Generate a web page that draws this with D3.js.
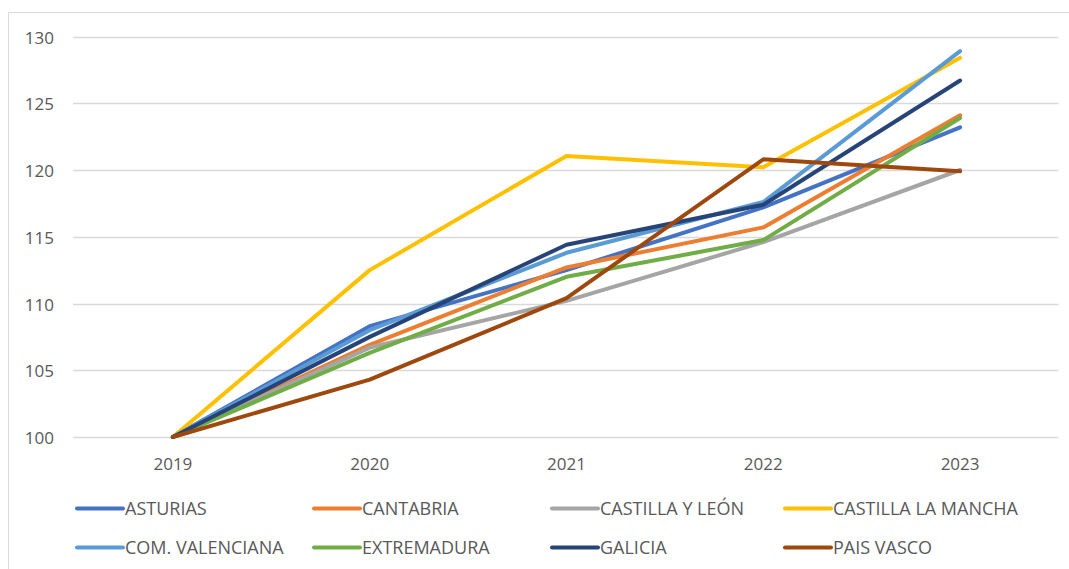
<!DOCTYPE html>
<html>
<head>
<meta charset="utf-8">
<script src="https://cdn.jsdelivr.net/npm/d3@7"></script>
<style>
  body { margin: 0; background: #fff; }
  text { font-family: "Open Sans", "Liberation Sans", sans-serif; fill: #595959; }
</style>
</head>
<body>
<div id="chart"></div>
<script>
const years = ['2019', '2020', '2021', '2022', '2023']
const yTicks = [100, 105, 110, 115, 120, 125, 130]

const regions = ['ASTURIAS', 'CANTABRIA', 'CASTILLA Y LEÓN', 'CASTILLA LA MANCHA',
  'COM. VALENCIANA', 'EXTREMADURA', 'GALICIA', 'PAIS VASCO']
const colors = ['#4472C4', '#ED7D31', '#A5A5A5', '#FFC000',
  '#5B9BD5', '#70AD47', '#264478', '#9E480E']

const asturias = [100, 108.3, 112.5, 117.2, 123.2]
const cantabria = [100, 106.9, 112.7, 115.7, 124.1]
const castillaLeon = [100, 106.7, 110.2, 114.6, 120.0]
const castillaMancha = [100, 112.5, 121.05, 120.2, 128.4]
const comValenciana = [100, 108.0, 113.8, 117.6, 128.9]
const extremadura = [100, 106.3, 112.0, 114.75, 123.9]
const galicia = [100, 107.5, 114.4, 117.4, 126.7]
const paisVasco = [100, 104.3, 110.4, 120.8, 119.9]

const seriesValues = [asturias, cantabria, castillaLeon, castillaMancha,
  comValenciana, extremadura, galicia, paisVasco]

const WIDTH = 1069
const HEIGHT = 569
const margin = { top: 36.5, left: 74.5, right: 10.5, bottom: 132 }

const svg = d3.select('#chart')
  .append('svg')
  .attr('width', WIDTH)
  .attr('height', HEIGHT)

// chart border (right and bottom edges fall outside the picture)
svg.append('rect')
  .attr('x', 8.5)
  .attr('y', 12.5)
  .attr('width', WIDTH)
  .attr('height', HEIGHT)
  .attr('fill', 'none')
  .attr('stroke', '#d9d9d9')

const x = d3.scaleBand()
  .domain(years)
  .range([margin.left, WIDTH - margin.right])

const y = d3.scaleLinear()
  .domain([100, 130])
  .range([437, margin.top])

/**
 * Gridlines + axes
 */
svg.append('g')
  .selectAll('line')
  .data(yTicks)
  .enter()
  .append('line')
  .attr('x1', margin.left - 1.5)
  .attr('x2', WIDTH - margin.right)
  .attr('y1', d => Math.round(y(d)) + 0.5)
  .attr('y2', d => Math.round(y(d)) + 0.5)
  .attr('stroke', '#d9d9d9')
  .attr('stroke-width', 1.3)

svg.append('g')
  .selectAll('text')
  .data(yTicks)
  .enter()
  .append('text')
  .attr('x', 54)
  .attr('y', d => y(d) + 7)
  .attr('text-anchor', 'end')
  .attr('font-size', '17px')
  .text(d => d)

svg.append('g')
  .selectAll('text')
  .data(years)
  .enter()
  .append('text')
  .attr('x', d => x(d) + x.bandwidth() / 2)
  .attr('y', 470)
  .attr('text-anchor', 'middle')
  .attr('font-size', '17px')
  .text(d => d)

/**
 * Lines
 */
const line = d3.line()
  .x((d, i) => x(years[i]) + x.bandwidth() / 2)
  .y(d => y(d))

svg.append('g')
  .selectAll('path')
  .data(seriesValues)
  .enter()
  .append('path')
  .attr('d', d => line(d))
  .attr('fill', 'none')
  .attr('stroke', (d, i) => colors[i])
  .attr('stroke-width', 4)
  .attr('stroke-linecap', 'round')
  .attr('stroke-linejoin', 'round')

/**
 * Legend
 */
const legendX = [77, 314, 552, 785]
const legendY = [508.5, 547.5]
const legend = svg.append('g')
  .selectAll('g')
  .data(regions)
  .enter()
  .append('g')
  .attr('transform', (d, i) => `translate(${legendX[i % 4]}, ${legendY[Math.floor(i / 4)]})`)

legend.append('line')
  .attr('x1', 0)
  .attr('x2', 46)
  .attr('stroke', (d, i) => colors[i])
  .attr('stroke-width', 4)
  .attr('stroke-linecap', 'round')

legend.append('text')
  .attr('x', 48)
  .attr('y', 6.5)
  .attr('font-size', '18px')
  .text(d => d)
</script>
</body>
</html>
